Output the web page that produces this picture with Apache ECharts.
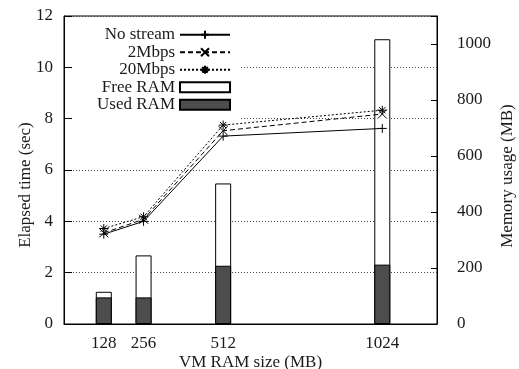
<!DOCTYPE html>
<html>
<head>
<meta charset="utf-8">
<script src="https://cdn.jsdelivr.net/npm/echarts@6/dist/echarts.min.js"></script>
<style>html,body{margin:0;padding:0;background:#fff}#c{width:519px;height:369px}</style>
</head>
<body>
<div id="c"></div>
<script>
const vmRamSizes = [128, 256, 512, 1024];
const xTickLabels = [128, 256, 512, 1024];
const noStream = [3.5, 4.0, 7.32, 7.62];
const mbps2 = [3.55, 4.08, 7.53, 8.18];
const mbps20 = [3.72, 4.18, 7.75, 8.33];
const usedRam = [95, 95, 208, 212];
const freeRam = [20, 150, 294, 805];

const FONT = 'Liberation Serif';
const FS = 17;
const TXT = '#1a1a1a';
const pair = arr => vmRamSizes.map((x, i) => [x, arr[i]]);
const totalRam = usedRam.map((u, i) => u + freeRam[i]);

const PLUS = 'path://M0,5L10,5M5,0L5,10';
const CROSS = 'path://M1,1L9,9M1,9L9,1';
const STAR = 'path://M0,5L10,5M5,0L5,10M1.5,1.5L8.5,8.5M1.5,8.5L8.5,1.5';

function lineSeries(name, data, sym, type) {
  return {
    name, type: 'line', data: pair(data), yAxisIndex: 0,
    symbol: sym, symbolSize: 9, z: 5,
    lineStyle: { color: '#000', width: 1, type },
    itemStyle: { color: '#000', borderColor: '#000', borderWidth: 1 },
    emphasis: { disabled: true }
  };
}

const chart = echarts.init(document.getElementById('c'));
chart.setOption({
  animation: false,
  grid: { left: 64, right: 82, top: 16, bottom: 45, show: true, borderColor: '#000', borderWidth: 1,
    backgroundColor: 'transparent', containLabel: false, outerBoundsMode: 'none' },
  legend: {
    orient: 'vertical', align: 'right', right: 280, top: 18,
    itemWidth: 50, itemHeight: 10, itemGap: 0, itemTextGap: 10,
    padding: [8, 8, 6, 24], backgroundColor: '#fff',
    textStyle: { fontFamily: FONT, fontSize: FS, color: TXT, lineHeight: 17.5 },
    data: ['No stream', '2Mbps', '20Mbps', { name: 'Free RAM', icon: 'rect' }, { name: 'Used RAM', icon: 'rect' }]
  },
  xAxis: {
    type: 'value', min: 0, max: 1200, interval: 128,
    name: 'VM RAM size (MB)', nameLocation: 'middle', nameGap: 30, nameMoveOverlap: false,
    nameTextStyle: { fontFamily: FONT, fontSize: FS, color: TXT },
    axisLine: { show: true, lineStyle: { color: '#000', width: 1 } }, axisTick: { show: false }, splitLine: { show: false },
    axisLabel: { fontFamily: FONT, fontSize: FS, color: TXT, margin: 11,
      formatter: v => xTickLabels.includes(v) ? String(v) : '' }
  },
  yAxis: [{
    type: 'value', min: 0, max: 12, interval: 2, position: 'left',
    name: 'Elapsed time (sec)', nameLocation: 'middle', nameGap: 30, nameRotate: 90, nameMoveOverlap: false,
    nameTextStyle: { fontFamily: FONT, fontSize: FS, color: TXT, padding: [0, 30, 0, 0] },
    axisLine: { show: true, lineStyle: { color: '#000', width: 1 } },
    axisTick: { show: true, inside: true, length: 8, lineStyle: { color: '#000' } },
    axisLabel: { fontFamily: FONT, fontSize: FS, color: TXT, margin: 11 },
    splitLine: { show: true, lineStyle: { color: '#444', width: 1, type: [1, 2] } }
  }, {
    type: 'value', min: 0, max: 1100, interval: 200, position: 'right',
    name: 'Memory usage (MB)', nameLocation: 'middle', nameGap: 62, nameRotate: 90, nameMoveOverlap: false,
    nameTextStyle: { fontFamily: FONT, fontSize: FS, color: TXT, padding: [0, 12, 0, 0] },
    axisLine: { show: true, lineStyle: { color: '#000', width: 1 } },
    axisTick: { show: true, inside: true, length: 6, lineStyle: { color: '#000' } },
    axisLabel: { fontFamily: FONT, fontSize: FS, color: TXT, margin: 20,
      formatter: v => (v % 200 === 0) ? String(v) : '' },
    splitLine: { show: false }
  }],
  series: [
    lineSeries('No stream', noStream, PLUS, 'solid'),
    lineSeries('2Mbps', mbps2, CROSS, [5, 3]),
    lineSeries('20Mbps', mbps20, STAR, [2, 2]),
    { name: 'Free RAM', type: 'bar', yAxisIndex: 1, barWidth: 16, barGap: '-100%', data: pair(totalRam), z: 2,
      itemStyle: { color: '#fff', borderColor: '#000', borderWidth: 1 }, emphasis: { disabled: true } },
    { name: 'Used RAM', type: 'bar', yAxisIndex: 1, barWidth: 16, barGap: '-100%', data: pair(usedRam), z: 3,
      itemStyle: { color: '#4d4d4d', borderColor: '#000', borderWidth: 1 }, emphasis: { disabled: true } }
  ]
});
</script>
</body>
</html>
